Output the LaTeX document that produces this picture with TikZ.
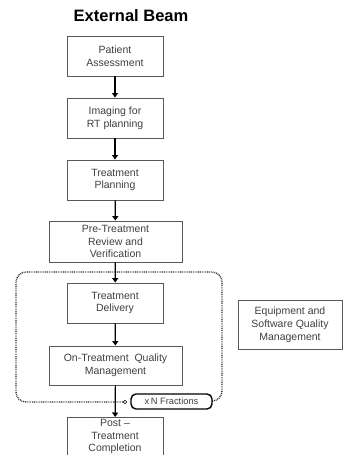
\documentclass[tikz,border=0pt]{standalone}
\usepackage{fontspec}
\setmainfont{Liberation Sans}
\usetikzlibrary{arrows.meta}
\begin{document}
\begin{tikzpicture}[x=1pt,y=-1pt,
  box/.style={draw=black!65,line width=0.9pt,fill=white,align=center,inner sep=0pt,
    font=\fontsize{10.5}{12.8}\selectfont,text=black!75},
  flow/.style={-{Triangle[width=6pt,length=4.5pt]},line width=1.2pt,black},
  dotline/.style={line width=1.4pt,black!80,dash pattern=on 0.9pt off 0.9pt}]
\useasboundingbox (0,0) rectangle (344,455);
\clip (0,0) rectangle (344,455);
\node[font=\fontsize{16.5}{18}\selectfont\bfseries,text=black] (title) at (131,16) {External Beam};
\node[box,minimum width=96pt,minimum height=40pt] (pa) at (115,56) {Patient\\Assessment};
\node[box,minimum width=96pt,minimum height=40pt] (img) at (115,118) {Imaging for\\RT planning};
\node[box,minimum width=96pt,minimum height=40pt] (tp) at (115,180) {Treatment\\Planning};
\node[box,minimum width=133pt,minimum height=41pt] (prt) at (115.5,241.5) {Pre-Treatment\\Review and\\Verification};
\node[box,minimum width=96pt,minimum height=40pt] (td) at (115,303) {Treatment\\Delivery};
\node[box,minimum width=133pt,minimum height=39pt] (otq) at (115.5,365.5) {On-Treatment\ \ Quality\\Management};
\node[box,minimum width=96pt,minimum height=46pt,anchor=north] (post) at (115,417) {};
\node[font=\fontsize{10.5}{12.2}\selectfont,text=black!75,align=center,anchor=north,inner sep=0pt] (posttext) at (115,419.5) {Post --\\Treatment\\Completion};
\node[box,minimum width=104pt,minimum height=49pt] (eq) at (290,324.5) {Equipment and\\Software Quality\\Management};
% dotted loop
\draw[dotline,rounded corners=10pt] (123,402) -- (16,402) -- (16,272) -- (222,272) -- (222,401) -- (211,401);
\node[draw=black,line width=0.5pt,circle,inner sep=0pt,minimum size=3.5pt,fill=white] (dot) at (125,402) {};
\node[draw=black,line width=1.4pt,rounded corners=5pt,fill=white,minimum width=81pt,minimum height=15pt,inner sep=0pt,
  font=\fontsize{9.3}{10}\selectfont,text=black!75] (frac) at (171.5,401.5) {x\,N Fractions};
% arrows
\draw[flow] (pa) -- (img);
\draw[flow] (img) -- (tp);
\draw[flow] (tp) -- (prt);
\draw[flow] (prt) -- (td);
\draw[flow] (td) -- (otq);
\draw[flow] (otq) -- (post);
\end{tikzpicture}
\end{document}
